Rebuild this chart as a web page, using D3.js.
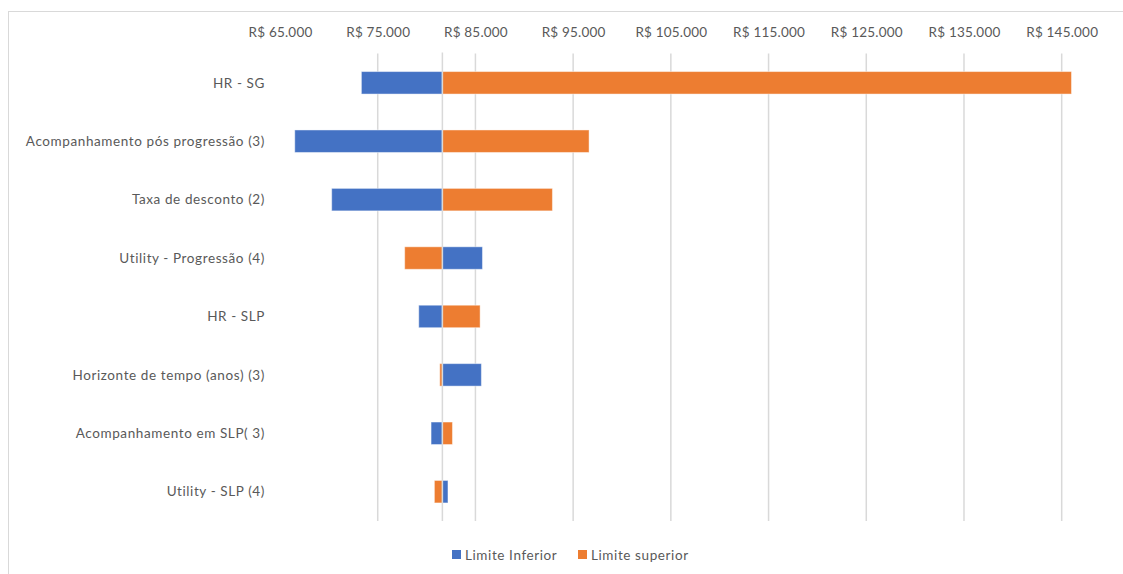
<!DOCTYPE html>
<html>
<head>
<meta charset="utf-8">
<script src="https://cdn.jsdelivr.net/npm/d3@7"></script>
<style>
  html, body { margin: 0; padding: 0; background: #fff; }
  svg { display: block; font-family: Lato, "Liberation Sans", sans-serif; }
</style>
</head>
<body>
<svg id="chart" width="1123" height="574"></svg>
<script>
// Tornado chart: one-way sensitivity around the base-case cost
const categories = [
  "HR - SG",
  "Acompanhamento pós progressão (3)",
  "Taxa de desconto (2)",
  "Utility - Progressão (4)",
  "HR - SLP",
  "Horizonte de tempo (anos) (3)",
  "Acompanhamento em SLP( 3)",
  "Utility - SLP (4)"
];
const baseValue = 81620;
const lowerValues = [73330, 66510, 70290, 85720, 79200, 85610, 80460, 82190];
const upperValues = [146000, 96630, 92880, 77760, 85480, 81350, 82650, 80800];
const tickValues = [65000, 75000, 85000, 95000, 105000, 115000, 125000, 135000, 145000];
const seriesNames = ["Limite Inferior", "Limite superior"];
const seriesColors = ["#4472C4", "#ED7D31"];

const svg = d3.select("#chart");
const textColor = "#595959";
const gridColor = "#d9d9d9";

// chart frame
svg.append("rect")
  .attr("x", 8.5).attr("y", 11.5)
  .attr("width", 1200).attr("height", 700)
  .attr("fill", "none").attr("stroke", gridColor).attr("stroke-width", 1);

const plot = { left: 280, right: 1061.7, top: 53.6, bottom: 520.9 };

const x = d3.scaleLinear().domain([65000, 145000]).range([plot.left, plot.right]);
const y = d3.scaleBand().domain(categories)
  .range([plot.top, plot.bottom])
  .paddingInner(0.615).paddingOuter(0.3075);

const locale = d3.formatLocale({ decimal: ",", thousands: ".", grouping: [3], currency: ["R$ ", ""] });
const money = locale.format("$,.0f");

// vertical gridlines
svg.append("g").selectAll("line")
  .data(tickValues.filter(v => v > 65000))
  .join("line")
  .attr("x1", d => x(d)).attr("x2", d => x(d))
  .attr("y1", plot.top).attr("y2", plot.bottom)
  .attr("stroke", gridColor).attr("stroke-width", 1.5);

// top value axis
const xAxis = svg.append("g")
  .attr("transform", `translate(0,${plot.top})`)
  .call(d3.axisTop(x).tickValues(tickValues).tickFormat(money).tickSize(0).tickPadding(17));
xAxis.select(".domain").remove();
xAxis.selectAll("text")
  .attr("fill", textColor).attr("font-size", 13.5)
  .attr("letter-spacing", 0.2)
  .attr("font-family", "Lato, 'Liberation Sans', sans-serif");

// bars
const rows = categories.map((c, i) => ({ c, lo: lowerValues[i], hi: upperValues[i] }));
const series = [
  { key: seriesNames[0], color: seriesColors[0], get: d => d.lo },
  { key: seriesNames[1], color: seriesColors[1], get: d => d.hi }
];
series.forEach(s => {
  svg.append("g").selectAll("rect")
    .data(rows)
    .join("rect")
    .attr("x", d => x(Math.min(baseValue, s.get(d))))
    .attr("width", d => Math.abs(x(s.get(d)) - x(baseValue)))
    .attr("y", d => y(d.c))
    .attr("height", y.bandwidth())
    .attr("fill", s.color)
    .attr("stroke", "#ffffff").attr("stroke-opacity", 0.45).attr("stroke-width", 1);
});

// category axis line at the base value
svg.append("line")
  .attr("x1", x(baseValue)).attr("x2", x(baseValue))
  .attr("y1", plot.top - 1).attr("y2", plot.bottom)
  .attr("stroke", gridColor).attr("stroke-width", 1.5);

// category labels
svg.append("g").selectAll("text")
  .data(categories)
  .join("text")
  .attr("x", 265)
  .attr("y", d => y(d) + y.bandwidth() / 2)
  .attr("dy", "0.35em")
  .attr("text-anchor", "end")
  .attr("fill", textColor).attr("font-size", 13.5)
  .attr("letter-spacing", 0.6)
  .text(d => d);

// legend
const legend = svg.append("g");
const legendItems = [
  { name: seriesNames[0], color: seriesColors[0], x: 452 },
  { name: seriesNames[1], color: seriesColors[1], x: 578 }
];
legendItems.forEach(it => {
  legend.append("rect")
    .attr("x", it.x).attr("y", 550).attr("width", 9).attr("height", 9)
    .attr("fill", it.color);
  legend.append("text")
    .attr("x", it.x + 13).attr("y", 555).attr("dy", "0.35em")
    .attr("fill", textColor).attr("font-size", 13.5)
    .attr("letter-spacing", 0.6)
    .text(it.name);
});
</script>
</body>
</html>
